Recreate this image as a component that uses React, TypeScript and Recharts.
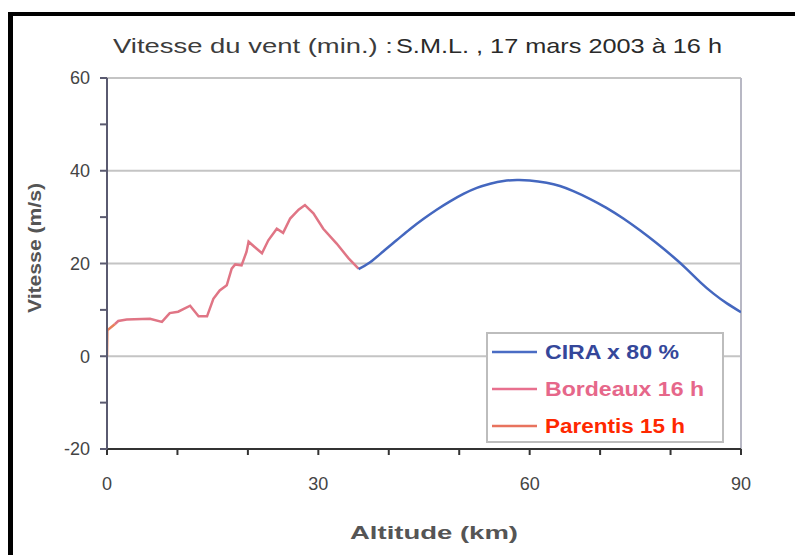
import { CartesianGrid, Line, LineChart, ReferenceLine, XAxis, YAxis, Label } from "recharts";

// Altitude (km) / wind speed (m/s)
const parentisAlt = [0, 0.05, 1.1];
const parentisSpeed = [0, 5.6, 6.9];

const bordeauxAlt = [
  1.1, 1.6, 2.8, 6.1, 7.8, 8.9, 10.1, 11.8, 13.0, 14.2, 15.1, 16.0, 17.0, 17.7, 18.2, 19.1,
  19.8, 20.1, 21.0, 22.0, 22.9, 24.1, 25.0, 26.0, 27.2, 28.1, 29.3, 30.7, 32.6, 34.3, 35.7,
];
const bordeauxSpeed = [
  6.9, 7.6, 7.9, 8.1, 7.4, 9.3, 9.6, 10.9, 8.6, 8.6, 12.4, 14.2, 15.3, 18.9, 19.8, 19.6,
  22.5, 24.7, 23.5, 22.2, 25.0, 27.5, 26.6, 29.7, 31.6, 32.6, 30.8, 27.5, 24.3, 21.1, 18.9,
];

const ciraAlt = [
  35.7, 37.3, 39.2, 41.1, 43.0, 44.9, 46.8, 48.7, 50.6, 52.5, 54.4, 56.3, 58.2, 60.0, 62.4,
  64.3, 66.2, 68.6, 70.9, 73.3, 75.7, 78.0, 80.4, 82.3, 84.2, 86.1, 88.0, 90.0,
];
const ciraSpeed = [
  18.8, 20.2, 22.6, 25.0, 27.4, 29.6, 31.6, 33.4, 35.0, 36.3, 37.2, 37.8, 38.0, 37.9, 37.4,
  36.7, 35.6, 33.9, 32.0, 29.7, 27.1, 24.4, 21.4, 18.8, 16.0, 13.5, 11.4, 9.5,
];

const xTicks = [0, 10, 20, 30, 40, 50, 60, 70, 80, 90];
const yTicks = [-20, -10, 0, 10, 20, 30, 40, 50, 60];
const gridValues = [0, 20, 40, 60];

const toPoints = (alt: number[], speed: number[]) => alt.map((a, i) => ({ alt: a, v: speed[i] }));

const FONT = "'Liberation Sans', Arial, sans-serif";

const legendItems = [
  { label: "CIRA x 80 %", line: "#4a6cc4", text: "#35479a", len: 134 },
  { label: "Bordeaux 16 h", line: "#e8708e", text: "#e6678a", len: 159 },
  { label: "Parentis 15 h", line: "#e8735e", text: "#ff2800", len: 140 },
];

export default function App() {
  const parentis = toPoints(parentisAlt, parentisSpeed);
  const bordeaux = toPoints(bordeauxAlt, bordeauxSpeed);
  const cira = toPoints(ciraAlt, ciraSpeed);

  return (
    <div style={{ position: "relative", width: 803, height: 555, margin: "-8px 0 0 -8px", background: "#fff", fontFamily: FONT }}>
      <LineChart width={803} height={555} data={[]} margin={{ top: 78, right: 62, bottom: 46, left: 47 }}>
        <CartesianGrid horizontal={false} vertical={false} />
        {gridValues.map((g) => (
          <ReferenceLine key={g} y={g} stroke="#c4c4c4" strokeWidth={2} />
        ))}
        <ReferenceLine x={90} stroke="#b8b8c4" strokeWidth={2} />
        <XAxis
          type="number"
          dataKey="alt"
          domain={[0, 90]}
          ticks={xTicks}
          allowDataOverflow
          tickFormatter={(v) => (v % 30 === 0 ? String(v) : "")}
          tick={{ fontSize: 18, fill: "#444", fontFamily: FONT }}
          tickSize={6}
          tickMargin={22}
          stroke="#333"
          strokeWidth={2}
          height={60}
        >
          <Label
            content={() => (
              <text x={434} y={539} textAnchor="middle" fontSize={19} fontWeight="bold" fill="#555" fontFamily={FONT} textLength={168} lengthAdjust="spacingAndGlyphs">
                Altitude  (km)
              </text>
            )}
          />
        </XAxis>
        <YAxis
          type="number"
          domain={[-20, 60]}
          ticks={yTicks}
          allowDataOverflow
          tickFormatter={(v) => (v % 20 === 0 ? String(v) : "")}
          tick={{ fontSize: 18, fill: "#444", fontFamily: FONT }}
          tickSize={7}
          tickMargin={10}
          stroke="#5a5a70"
          strokeWidth={2}
          width={60}
        >
          <Label
            content={() => (
              <text x={41} y={248} transform="rotate(-90 41 248)" textAnchor="middle" fontSize={19} fontWeight="bold" fill="#555" fontFamily={FONT} textLength={130} lengthAdjust="spacingAndGlyphs">
                Vitesse  (m/s)
              </text>
            )}
          />
        </YAxis>
        <Line data={bordeaux} dataKey="v" type="linear" stroke="#e07585" strokeWidth={2.5} dot={false} isAnimationActive={false} />
        <Line data={parentis} dataKey="v" type="linear" stroke="#e8805a" strokeWidth={2.5} dot={false} isAnimationActive={false} />
        <Line data={cira} dataKey="v" type="natural" stroke="#4467bf" strokeWidth={2.5} dot={false} isAnimationActive={false} />
      </LineChart>

      <svg width={803} height={555} style={{ position: "absolute", left: 0, top: 0, pointerEvents: "none" }}>
        <text x={113} y={53} fontSize={21} fill="#3c3c3c" fontFamily={FONT} textLength={280} lengthAdjust="spacingAndGlyphs">
          Vitesse du vent  (min.) :
        </text>
        <text x={396} y={53} fontSize={21} fill="#2a2a2a" fontFamily={FONT} textLength={326} lengthAdjust="spacingAndGlyphs">
          S.M.L. , 17 mars 2003 à 16 h
        </text>
        <g>
          <rect x={487} y={333} width={236} height={109} fill="#fff" stroke="#bdbdbd" strokeWidth={2} />
          {legendItems.map((it, i) => {
            const cy = 352 + i * 37;
            return (
              <g key={it.label}>
                <line x1={492} x2={537} y1={cy} y2={cy} stroke={it.line} strokeWidth={2.5} />
                <text x={545} y={cy + 7} fontSize={20} fontWeight="bold" fill={it.text} fontFamily={FONT} textLength={it.len} lengthAdjust="spacingAndGlyphs">
                  {it.label}
                </text>
              </g>
            );
          })}
        </g>
      </svg>

      <div style={{ position: "absolute", left: 7, top: 12, width: 6, height: 543, background: "#000" }} />
      <div style={{ position: "absolute", left: 7, top: 12, width: 796, height: 4, background: "#000" }} />
    </div>
  );
}
